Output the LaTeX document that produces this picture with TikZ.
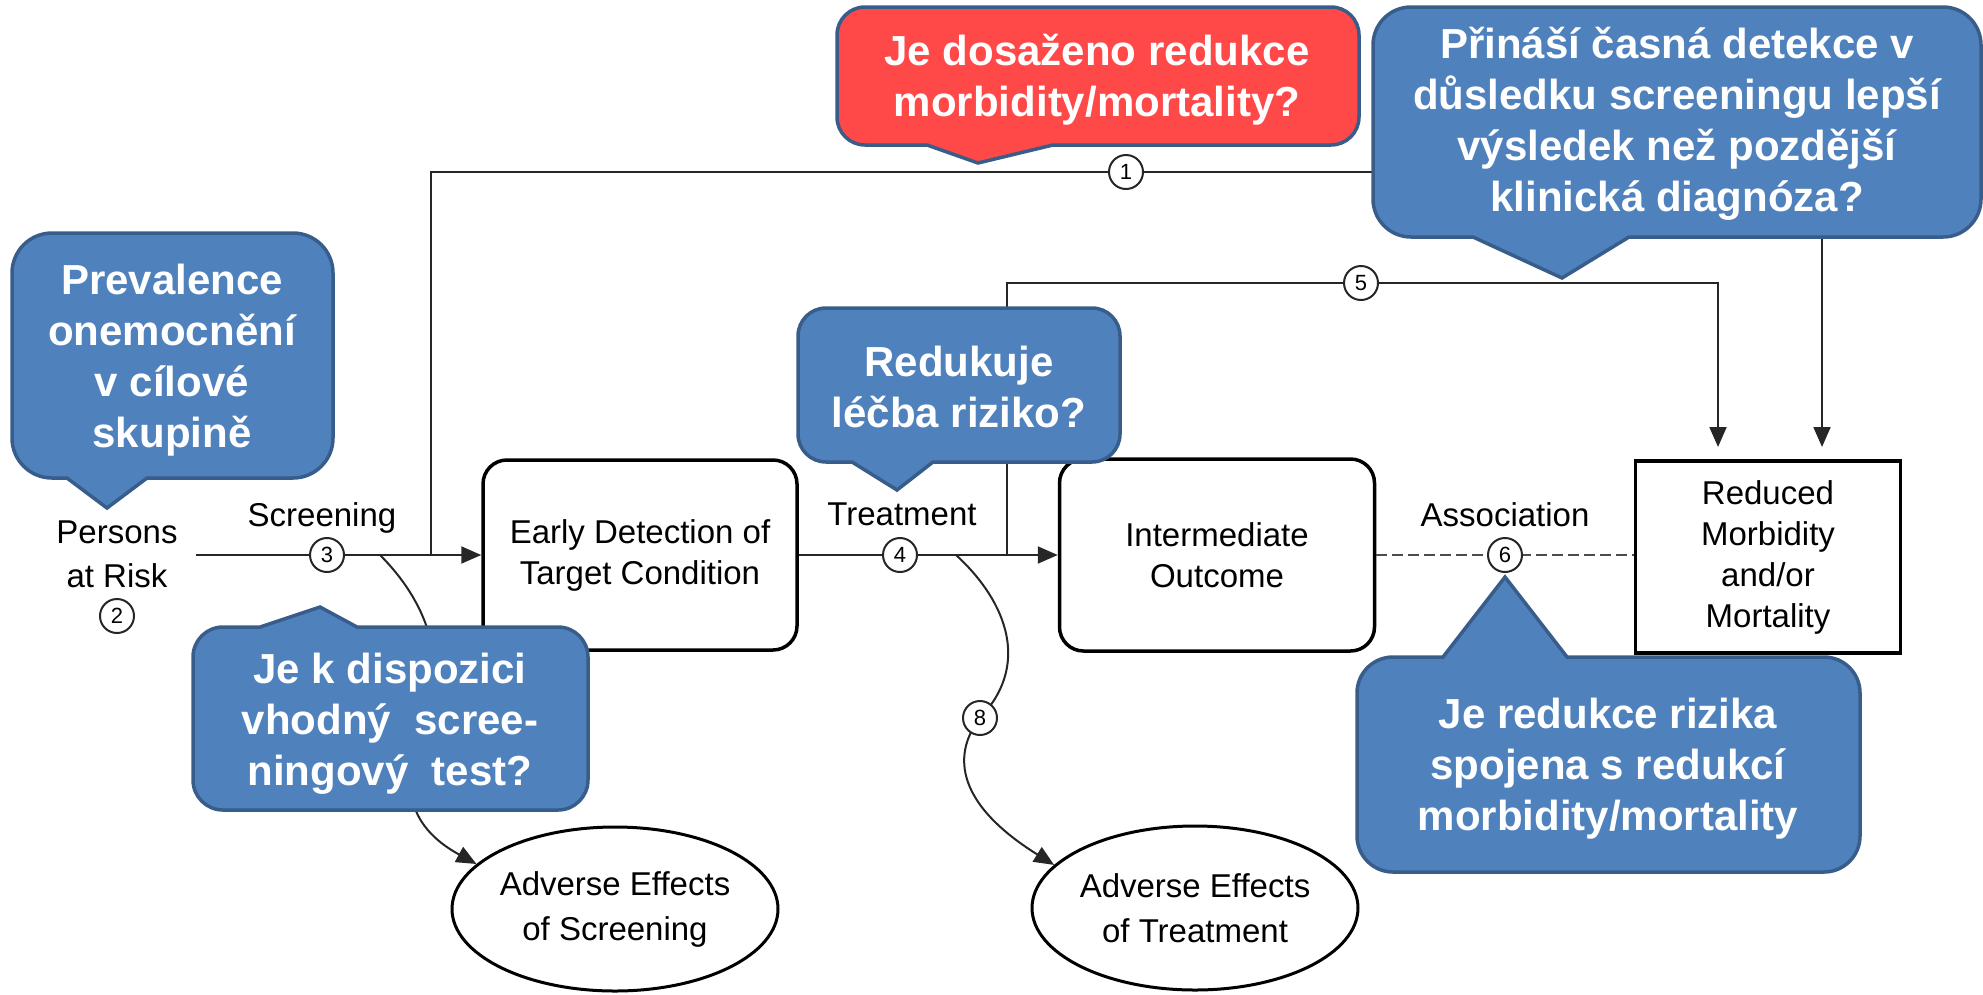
\documentclass[tikz,border=0pt]{standalone}
\usepackage{fontspec}
\setmainfont{Liberation Sans}
\usetikzlibrary{arrows.meta,shapes.geometric}
\definecolor{bfill}{RGB}{79,129,189}
\definecolor{bline}{RGB}{56,93,138}
\definecolor{rfill}{RGB}{255,72,72}
\begin{document}
\begin{tikzpicture}[x=1pt,y=-1pt,
  conn/.style={line width=2pt, draw=black!85},
  arr/.style={conn, -{Triangle[length=20pt,width=17pt]}},
  dashline/.style={line width=2.5pt, draw=black!70, dash pattern=on 11pt off 5pt},
  dtext/.style={font=\fontsize{33}{41}\selectfont, align=center, inner sep=0pt},
  rbox/.style={dtext, draw=black, line width=3.5pt, rounded corners=24pt},
  sbox/.style={dtext, draw=black, line width=3.5pt},
  num/.style={circle, draw=black!85, line width=2pt, fill=white, minimum size=34pt, inner sep=0pt, font=\fontsize{22}{22}\selectfont},
  ell/.style={ellipse, draw=black, line width=3pt, inner sep=0pt, font=\fontsize{33}{45}\selectfont, align=center},
  bubble/.style={draw=bline, line width=3.5pt, fill=bfill},
  rbubble/.style={bubble, fill=rfill},
  ctext/.style={text=white, font=\fontsize{42}{51}\selectfont\bfseries, align=center, inner sep=0pt, anchor=base}
]
\useasboundingbox (0,0) rectangle (1983,994);

% boxes
\node[rbox, minimum width=314pt, minimum height=190pt] (early) at (640,555) {Early Detection of\\Target Condition};
\node[rbox, minimum width=315pt, minimum height=192pt] (inter) at (1217,555) {Intermediate\\Outcome};
\node[sbox, minimum width=265pt, minimum height=192pt] (reduced) at (1768,557) {Reduced\\Morbidity\\and/or\\Mortality};
\node[ell, minimum width=316pt, minimum height=164pt] (ellS) at (615,909) {Adverse Effects\\of Screening};
\node[ell, minimum width=320pt, minimum height=164pt] (ellT) at (1195,908) {Adverse Effects\\of Treatment};

% labels
\node[dtext, anchor=base] (persons) at (117,587) {Persons\\[3pt]at Risk};
\node[dtext, anchor=base] (lscr) at (322,526) {Screening};
\node[dtext, anchor=base] (ltrt) at (902,525) {Treatment};
\node[dtext, anchor=base] (lass) at (1505,526) {Association};

% coordinates
\coordinate (s0) at (196,555);
\coordinate (v1) at (431,555);
\coordinate (p1) at (1126,172);
\coordinate (t1) at (1822,447);
\coordinate (v5) at (1007,555);
\coordinate (p5) at (1361,283);
\coordinate (t5) at (1718,447);
\coordinate (p2) at (117,616);
\coordinate (p3) at (327,555);
\coordinate (p4) at (900,555);
\coordinate (p6) at (1505,555);
\coordinate (p8) at (980,718);
\coordinate (k3) at (380,555);
\coordinate (m3) at (425,730);
\coordinate (k8) at (956,555);

% connectors
\draw[arr] (s0) -- (early);
\draw[arr] (early) -- (inter);
\draw[dashline] (inter) -- (inter -| reduced.west);
\draw[arr] (v1) |- (p1) -| (t1);
\draw[arr] (v5) |- (p5) -| (t5);
\draw[arr] (k3) .. controls (425,600) and (450,660) .. (m3) .. controls (400,780) and (405,825) .. (ellS.162);
\draw[arr] (k8) .. controls (1000,595) and (1035,660) .. (p8) .. controls (955,750) and (950,800) .. (ellT.163);

% numbered circles
\node[num] (c1) at (p1) {1};
\node[num] (c2) at (p2) {2};
\node[num] (c3) at (p3) {3};
\node[num] (c4) at (p4) {4};
\node[num] (c5) at (p5) {5};
\node[num] (c6) at (p6) {6};
\node[num] (c8) at (p8) {8};

% callouts
\draw[bubble] (172,233) [rounded corners=40pt] -- (12,233) -- (12,478) [sharp corners] -- (67,478) -- (107,508) -- (147,478) [rounded corners=40pt] -- (333,478) -- (333,233) -- cycle;
\node[ctext] (qprev) at (172,447) {Prevalence\\onemocnění\\v cílové\\skupině};

\draw[rbubble] (1098,7) [rounded corners=28pt] -- (837,7) -- (837,145) [sharp corners] -- (927,145) -- (978,163) -- (1053,145) [rounded corners=28pt] -- (1359,145) -- (1359,7) -- cycle;
\node[ctext] (qred) at (1097,116) {Je dosaženo redukce\\morbidity/mortality?};

\draw[bubble] (1677,7) [rounded corners=38pt] -- (1373,7) -- (1373,237) [sharp corners] -- (1473,237) -- (1562,278) -- (1629,237) [rounded corners=38pt] -- (1981,237) -- (1981,7) -- cycle;
\node[ctext] (qtr) at (1677,211) {Přináší časná detekce v\\důsledku screeningu lepší\\výsledek než pozdější\\klinická diagnóza?};

\draw[bubble] (959,308) [rounded corners=28pt] -- (798,308) -- (798,462) [sharp corners] -- (852,462) -- (897,490) -- (933,462) [rounded corners=28pt] -- (1120,462) -- (1120,308) -- cycle;
\node[ctext] (qredu) at (959,427) {Redukuje\\léčba riziko?};

\draw[bubble] (390,810) [rounded corners=30pt] -- (193,810) -- (193,627) [sharp corners] -- (260,627) -- (320,607) -- (357,627) [rounded corners=30pt] -- (588,627) -- (588,810) -- cycle;
\node[ctext] (qjek) at (390,785) {Je k dispozici\\vhodný\ \ scree-\\ningový\ \ test?};

\draw[bubble] (1608,872) [rounded corners=36pt] -- (1357,872) -- (1357,657) [sharp corners] -- (1443,657) -- (1505,577) -- (1567,657) [rounded corners=36pt] -- (1860,657) -- (1860,872) -- cycle;
\node[ctext] (qbr) at (1608,830) {Je redukce rizika\\spojena s redukcí\\morbidity/mortality};
\end{tikzpicture}
\end{document}
